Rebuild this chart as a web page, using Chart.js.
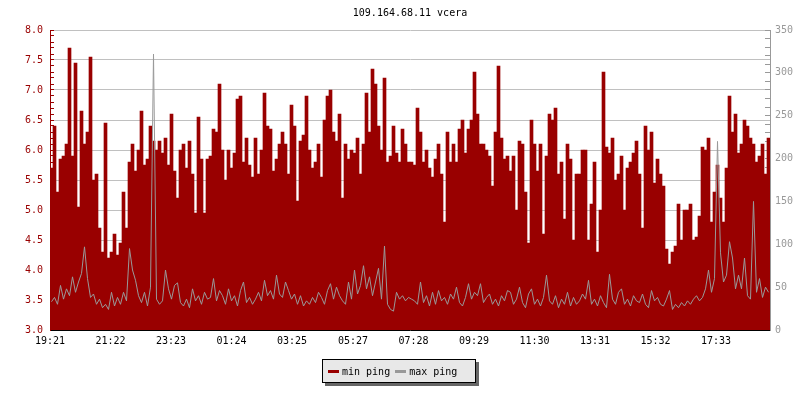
<!DOCTYPE html>
<html>
<head>
<meta charset="utf-8">
<script src="https://cdn.jsdelivr.net/npm/chart.js@4/dist/chart.umd.min.js"></script>
<style>
  body { margin: 0; background: #fff; }
  #wrap { position: relative; width: 800px; height: 400px; }
  #legend {
    position: absolute; left: 322px; top: 359px; width: 152px; height: 22px;
    border: 1px solid #000; background: #e8e8e8; box-shadow: 3px 3px 0 #666;
    font: 10px "DejaVu Sans Mono", monospace; color: #000;
    display: flex; align-items: center;
  }
  #legend .sw { display: inline-block; width: 11px; height: 3px; margin: 0 3px 0 5px; }
</style>
</head>
<body>
<div id="wrap">
  <canvas id="chart" width="800" height="400"></canvas>
  <div id="legend">
    <span class="sw" style="background:#990000"></span><span>min ping</span>
    <span class="sw" style="background:#999999"></span><span>max ping</span>
  </div>
</div>
<script>
// one sample every 6 minutes, starting 19:21
const startTime = '19:21';
const stepMinutes = 6;

const tickLabels = ['19:21', '21:22', '23:23', '01:24', '03:25', '05:27',
                    '07:28', '09:29', '11:30', '13:31', '15:32', '17:33'];

// min ping (left axis)
const minPing = [
  5.7, 6.4, 5.3, 5.85, 5.9, 6.1, 7.7, 5.9, 7.45, 5.05,
  6.65, 6.1, 6.3, 7.55, 5.5, 5.6, 4.7, 4.3, 6.45, 4.2,
  4.3, 4.6, 4.25, 4.45, 5.3, 4.7, 5.8, 6.1, 5.65, 6.0,
  6.65, 5.75, 5.85, 6.4, 6.15, 6.0, 6.15, 5.95, 6.2, 5.75,
  6.6, 5.65, 5.2, 6.0, 6.1, 5.7, 6.15, 5.6, 4.95, 6.55,
  5.85, 4.95, 5.85, 5.9, 6.35, 6.3, 7.1, 6.0, 5.5, 6.0,

  5.7, 5.95, 6.85, 6.9, 5.8, 6.2, 5.75, 5.55, 6.2, 5.6,
  6.0, 6.95, 6.4, 6.35, 5.65, 5.85, 6.1, 6.3, 6.1, 5.6,
  6.75, 6.4, 5.15, 6.15, 6.25, 6.9, 6.0, 5.7, 5.8, 6.1,
  5.55, 6.5, 6.9, 7.0, 6.3, 6.15, 6.6, 5.2, 6.1, 5.85,
  6.0, 5.95, 6.2, 5.6, 6.1, 6.95, 6.3, 7.35, 7.1, 6.4,
  6.0, 7.2, 5.8, 5.9, 6.4, 5.95, 5.8, 6.35, 6.1, 5.8,

  5.8, 5.75, 6.7, 6.3, 5.8, 6.0, 5.7, 5.55, 5.85, 6.1,
  5.6, 4.8, 6.3, 5.8, 6.1, 5.8, 6.35, 6.5, 5.95, 6.35,
  6.5, 7.3, 6.6, 6.1, 6.1, 6.0, 5.9, 5.4, 6.3, 7.4,
  6.2, 5.85, 5.9, 5.65, 5.9, 5.0, 6.15, 6.1, 5.3, 4.45,
  6.5, 6.1, 5.65, 6.1, 4.6, 5.9, 6.6, 6.5, 6.7, 5.6,
  5.8, 4.85, 6.1, 5.85, 4.5, 5.6, 5.6, 6.0, 6.0, 4.5,

  5.1, 5.8, 4.3, 5.0, 7.3, 6.05, 5.95, 6.2, 5.5, 5.6,
  5.9, 5.0, 5.7, 5.8, 5.95, 6.15, 5.6, 4.7, 6.4, 6.0,
  6.3, 5.45, 5.85, 5.6, 5.4, 4.35, 4.1, 4.3, 4.4, 5.1,
  4.5, 5.0, 5.0, 5.1, 4.5, 4.55, 4.9, 6.05, 6.0, 6.2,
  4.8, 5.3, 5.75, 5.2, 4.8, 5.7, 6.9, 6.3, 6.6, 5.95,
  6.1, 6.5, 6.4, 6.2, 6.1, 5.8, 5.9, 6.1, 5.6, 6.2
];

// max ping (right axis)
const maxPing = [
  33, 38, 30, 52, 36, 48, 40, 62, 44, 56,
  66, 97, 60, 38, 42, 30, 36, 26, 30, 24,
  44, 28, 38, 30, 44, 34, 95, 70, 58, 40,
  32, 44, 28, 50, 322, 36, 30, 34, 70, 48,
  36, 52, 55, 32, 28, 36, 26, 48, 34, 40,
  30, 44, 36, 38, 60, 34, 46, 40, 30, 48,

  34, 40, 28, 46, 56, 32, 38, 30, 36, 44,
  34, 58, 40, 46, 36, 64, 42, 38, 56, 46,
  36, 42, 30, 40, 28, 34, 30, 38, 32, 44,
  38, 30, 46, 54, 36, 50, 40, 34, 30, 56,
  36, 70, 42, 52, 75, 48, 62, 40, 56, 72,
  36, 98, 30, 24, 22, 44, 36, 40, 34, 38,

  36, 34, 30, 56, 32, 40, 28, 44, 30, 46,
  34, 38, 30, 42, 36, 50, 32, 28, 38, 54,
  36, 44, 40, 54, 32, 38, 42, 30, 36, 28,
  40, 34, 46, 44, 30, 36, 50, 32, 26, 42,
  48, 30, 36, 28, 38, 64, 34, 30, 40, 26,
  36, 30, 44, 28, 38, 30, 34, 42, 36, 58,

  30, 36, 28, 40, 32, 26, 65, 36, 30, 44,
  48, 30, 36, 28, 40, 34, 32, 42, 30, 26,
  46, 34, 38, 30, 28, 36, 46, 24, 30, 26,
  32, 28, 34, 30, 36, 40, 34, 38, 48, 70,
  44, 60, 220, 90, 56, 64, 103, 84, 48, 64,
  48, 84, 40, 36, 150, 44, 60, 38, 50, 44
];

const RED = '#990000';
const GREY = '#999999';
const FONT = { family: '"DejaVu Sans Mono", monospace', size: 10 };

function minutesSinceStart(label) {
  const [h, m] = label.split(':').map(Number);
  const [sh, sm] = startTime.split(':').map(Number);
  let d = h * 60 + m - (sh * 60 + sm);
  if (d < 0) d += 1440;
  return d;
}
const tickMinutes = tickLabels.map(minutesSinceStart);

const isHalf = v => Math.abs(v * 2 - Math.round(v * 2)) < 1e-6;
const isFifty = v => Math.abs(v % 50) < 1e-6;

new Chart(document.getElementById('chart'), {
  type: 'bar',
  data: {
    datasets: [
      {
        type: 'line',
        label: 'max ping',
        data: maxPing.map((v, i) => ({ x: i * stepMinutes + stepMinutes / 2, y: v })),
        yAxisID: 'y2',
        borderColor: GREY,
        borderWidth: 1,
        pointRadius: 0,
        tension: 0,
        order: 0
      },
      {
        label: 'min ping',
        data: minPing.map((v, i) => ({ x: i * stepMinutes + stepMinutes / 2, y: v })),
        yAxisID: 'y',
        backgroundColor: RED,
        borderWidth: 0,
        barPercentage: 1,
        categoryPercentage: 1,
        order: 1
      }
    ]
  },
  options: {
    responsive: false,
    animation: false,
    layout: { padding: 0 },
    plugins: {
      legend: { display: false },
      tooltip: { enabled: false },
      title: {
        display: true,
        text: '109.164.68.11 vcera',
        color: '#000',
        fullSize: false,
        font: { ...FONT, weight: 'normal' },
        padding: { top: 7, bottom: 11 }
      }
    },
    scales: {
      x: {
        type: 'linear',
        min: 0,
        max: 1440,
        offset: false,
        z: 1,
        afterFit: s => { s.height = 70; },
        afterBuildTicks: s => { s.ticks = tickMinutes.map(v => ({ value: v })); },
        border: { color: '#000', width: 1 },
        grid: { offset: false, drawOnChartArea: false, drawTicks: true, tickLength: -5, tickColor: '#000' },
        ticks: {
          autoSkip: false,
          maxRotation: 0,
          color: '#000',
          font: FONT,
          padding: 10,
          callback: v => tickLabels[tickMinutes.indexOf(v)] ?? ''
        }
      },
      y: {
        position: 'left',
        min: 3,
        max: 8,
        afterFit: s => { s.width = 50; },
        border: { color: RED, width: 1 },
        grid: {
          color: c => isHalf(c.tick.value) ? '#c0c0c0' : 'rgba(0,0,0,0)',
          drawTicks: true,
          tickLength: -4,
          tickColor: RED
        },
        ticks: {
          stepSize: 0.1,
          autoSkip: false,
          color: RED,
          font: FONT,
          padding: 11,
          callback: v => isHalf(v) ? v.toFixed(1) : ''
        }
      },
      y2: {
        position: 'right',
        min: 0,
        max: 350,
        z: 1,
        afterFit: s => { s.width = 30; },
        border: { color: GREY, width: 1 },
        grid: { drawOnChartArea: false, drawTicks: true, tickLength: -5, tickColor: GREY },
        ticks: {
          stepSize: 10,
          autoSkip: false,
          color: GREY,
          font: FONT,
          padding: 10,
          callback: v => isFifty(v) ? String(v) : ''
        }
      }
    }
  }
});
</script>
</body>
</html>
